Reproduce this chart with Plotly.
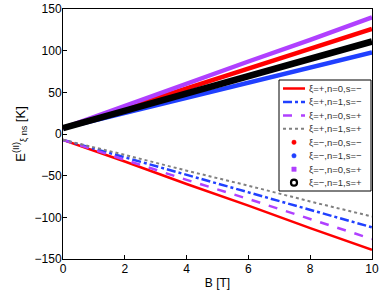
import plotly.graph_objects as go

B = [0, 2, 4, 6, 8, 10]

# xi = + (lines)
E_p_n0_sm = [-7, -33, -60, -86, -113, -139]
E_p_n1_sm = [-7, -28, -49, -70, -91, -112]
E_p_n0_sp = [-7, -31, -55, -78, -102, -126]
E_p_n1_sp = [-7, -25, -44, -62, -81, -99]
# xi = - (markers)
E_m_n0_sm = [7, 31, 55, 78, 102, 126]
E_m_n1_sm = [7, 25, 43, 62, 80, 98]
E_m_n0_sp = [7, 34, 60, 87, 113, 140]
E_m_n1_sp = [7, 28, 49, 69, 90, 111]

names = ["ξ=+,n=0,s=−", "ξ=+,n=1,s=−", "ξ=+,n=0,s=+", "ξ=+,n=1,s=+",
         "ξ=−,n=0,s=−", "ξ=−,n=1,s=−", "ξ=−,n=0,s=+", "ξ=−,n=1,s=+"]

RED = "#ff0000"
BLUE = "#2040ff"
PURPLE = "#b040ff"
GRAY = "#808080"

W, H = 382, 293
ML, MR, MT, MB = 63, 10, 9, 34
PW, PH = W - ML - MR, H - MT - MB


def px_x(px):
    return (px - ML) / PW


def px_y(py):
    return (H - MB - py) / PH


fig = go.Figure()
line_series = [
    (E_p_n0_sm, RED, "solid", 2.5),
    (E_p_n1_sm, BLUE, "dashdot", 2.5),
    (E_p_n0_sp, PURPLE, "dash", 2.5),
    (E_p_n1_sp, GRAY, "dot", 2),
]
for i, (y, c, d, w) in enumerate(line_series):
    fig.add_trace(go.Scatter(x=B, y=y, mode="lines", name=names[i], showlegend=False,
                             line=dict(color=c, dash=d, width=w)))

marker_series = [
    (E_m_n0_sm, RED, "circle", 4.5),
    (E_m_n1_sm, BLUE, "circle", 4.5),
    (E_m_n0_sp, PURPLE, "square", 4.5),
    (E_m_n1_sp, "black", "circle-open", 6.5),
]
for j, (y, c, s, w) in enumerate(marker_series):
    fig.add_trace(go.Scatter(x=B, y=y, mode="lines", name=names[4 + j], showlegend=False,
                             line=dict(color=c, width=w)))

# ---- manual legend (compact rows like the reference) ----
shapes = []
annotations = []
box = dict(x0=279, x1=371, y0=80, y1=191)
shapes.append(dict(type="rect", xref="paper", yref="paper",
                   x0=px_x(box["x0"]), x1=px_x(box["x1"]),
                   y0=px_y(box["y1"]), y1=px_y(box["y0"]),
                   line=dict(color="black", width=1), fillcolor="white", layer="above"))
row0, dy = 88.5, 13.45
for i in range(8):
    yc = row0 + i * dy
    if i < 4:
        _, c, d, w = line_series[i]
        shapes.append(dict(type="line", xref="paper", yref="paper",
                           x0=px_x(283), x1=px_x(305), y0=px_y(yc), y1=px_y(yc),
                           line=dict(color=c, dash=d, width=w), layer="above"))
    else:
        _, c, s, w = marker_series[i - 4]
        if s == "circle-open":
            r = 3
            shapes.append(dict(type="circle", xref="paper", yref="paper",
                               xsizemode="pixel", ysizemode="pixel",
                               xanchor=px_x(294), yanchor=px_y(yc),
                               x0=-r, x1=r, y0=-r, y1=r,
                               line=dict(color="black", width=2.2), fillcolor="white", layer="above"))
        else:
            r = 2.2
            shapes.append(dict(type="rect" if s == "square" else "circle",
                               xref="paper", yref="paper",
                               xsizemode="pixel", ysizemode="pixel",
                               xanchor=px_x(294), yanchor=px_y(yc),
                               x0=-r, x1=r, y0=-r, y1=r,
                               line=dict(color=c, width=0.5), fillcolor=c, layer="above"))
    annotations.append(dict(text=names[i], xref="paper", yref="paper",
                            x=px_x(306.5), y=px_y(yc), xanchor="left", yanchor="middle",
                            showarrow=False, font=dict(size=9.5, color="#333")))

axis_common = dict(showline=True, linecolor="black", linewidth=1, mirror=True,
                   ticks="inside", ticklen=4, tickcolor="black", showgrid=False,
                   zeroline=False, automargin=False, tickfont=dict(size=12, color="black"))
fig.update_layout(
    width=W, height=H,
    margin=dict(l=ML, r=MR, t=MT, b=MB),
    paper_bgcolor="white", plot_bgcolor="white",
    font=dict(family="Liberation Sans, Arial, sans-serif", size=12, color="black"),
    xaxis=dict(range=[0, 10], dtick=2, ticklabelstandoff=-1,
               title=dict(text="B [T]", standoff=3, font=dict(size=12)),
               **axis_common),
    yaxis=dict(range=[-150, 150], dtick=50, ticklabelstandoff=-2,
               title=dict(text="E<sup>(II)</sup><sub>ξ ns</sub> [K]", standoff=6, font=dict(size=13)),
               **axis_common),
    showlegend=False,
    shapes=shapes,
    annotations=annotations,
)
fig.write_html("out.html", config={"displayModeBar": False},
               post_script="document.body.style.margin='0';")
